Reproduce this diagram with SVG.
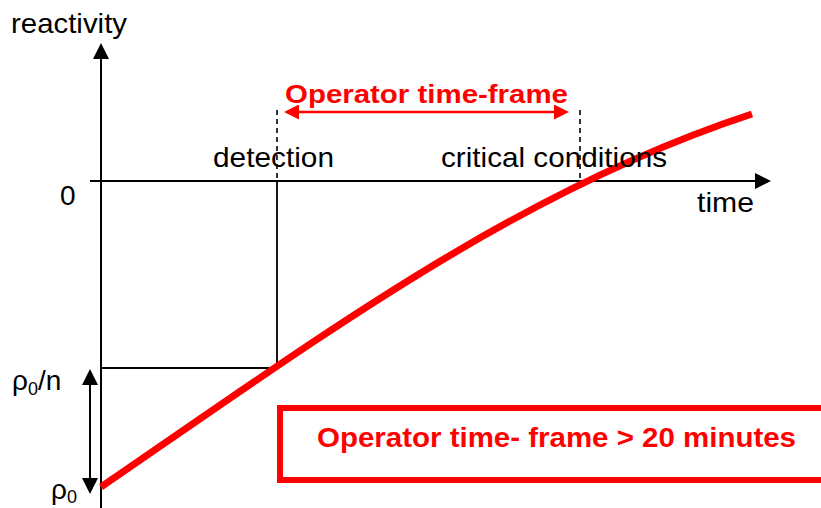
<svg xmlns="http://www.w3.org/2000/svg" width="821" height="508" viewBox="0 0 821 508">
  <style>
    .lbl { font-family: "Liberation Sans", Arial, sans-serif; font-size: 28px; fill: #000; }
    .red { font-family: "Liberation Sans", Arial, sans-serif; font-weight: bold; fill: #ff0000; }
    .axis { stroke: #000; stroke-width: 2; fill: none; }
    .thin { stroke: #000; stroke-width: 1.8; fill: none; }
    .dash { stroke: #000; stroke-width: 1.6; stroke-dasharray: 5 4; fill: none; }
  </style>
  <defs>
    <marker id="ahBlack" viewBox="0 0 16 16" refX="0" refY="8" markerWidth="16" markerHeight="16" markerUnits="userSpaceOnUse" orient="auto-start-reverse">
      <path d="M0,0 L16,8 L0,16 z" fill="#000"/>
    </marker>
    <marker id="ahRed" viewBox="0 0 16 16" refX="0" refY="8" markerWidth="16" markerHeight="15" markerUnits="userSpaceOnUse" orient="auto-start-reverse">
      <path d="M0,0 L16,8 L0,16 z" fill="#ff0000"/>
    </marker>
  </defs>
  <rect width="821" height="508" fill="#fff"/>

  <!-- axes -->
  <g id="axes">
    <line class="axis" x1="101" y1="508" x2="101" y2="59" marker-end="url(#ahBlack)"/>
    <line class="axis" x1="90" y1="181" x2="755" y2="181" marker-end="url(#ahBlack)"/>
    <text class="lbl" x="11" y="33" textLength="116" lengthAdjust="spacingAndGlyphs">reactivity</text>
    <text class="lbl" x="697" y="212" textLength="57" lengthAdjust="spacingAndGlyphs">time</text>
    <text class="lbl" x="60" y="205">0</text>
  </g>

  <!-- connectors -->
  <g id="connectors">
    <polyline class="thin" points="101,368 277,368 277,181"/>
    <line class="dash" x1="277" y1="110" x2="277" y2="181"/>
    <line class="dash" x1="580" y1="110" x2="580" y2="181"/>
    <line stroke="#ff0000" stroke-width="2.5" x1="299" y1="112" x2="554" y2="112" marker-start="url(#ahRed)" marker-end="url(#ahRed)"/>
    <line class="axis" x1="90" y1="385" x2="90" y2="478" marker-start="url(#ahBlack)" marker-end="url(#ahBlack)"/>
  </g>

  <!-- reactivity curve -->
  <g id="curve">
    <path d="M101,487 C330,330 520,190 752,114" fill="none" stroke="#ff0000" stroke-width="7"/>
  </g>

  <!-- labels -->
  <g id="label-frame">
    <text class="red" x="285" y="103" font-size="25" textLength="283" lengthAdjust="spacingAndGlyphs">Operator time-frame</text>
  </g>
  <g id="label-detection">
    <text class="lbl" x="213" y="167" textLength="121" lengthAdjust="spacingAndGlyphs">detection</text>
  </g>
  <g id="label-critical">
    <text class="lbl" x="441" y="167" textLength="226" lengthAdjust="spacingAndGlyphs">critical conditions</text>
  </g>
  <g id="label-rho-n">
    <text class="lbl" x="12" y="390">ρ<tspan font-size="18" dy="5">0</tspan><tspan dy="-5">/n</tspan></text>
  </g>
  <g id="label-rho">
    <text class="lbl" x="51" y="499">ρ<tspan font-size="18" dy="4">0</tspan></text>
  </g>

  <!-- note box -->
  <g id="note">
    <rect x="280" y="408" width="548" height="72" fill="none" stroke="#ff0000" stroke-width="6"/>
    <text class="red" x="317" y="447" font-size="27" textLength="479" lengthAdjust="spacingAndGlyphs">Operator time- frame &gt; 20 minutes</text>
  </g>
</svg>
